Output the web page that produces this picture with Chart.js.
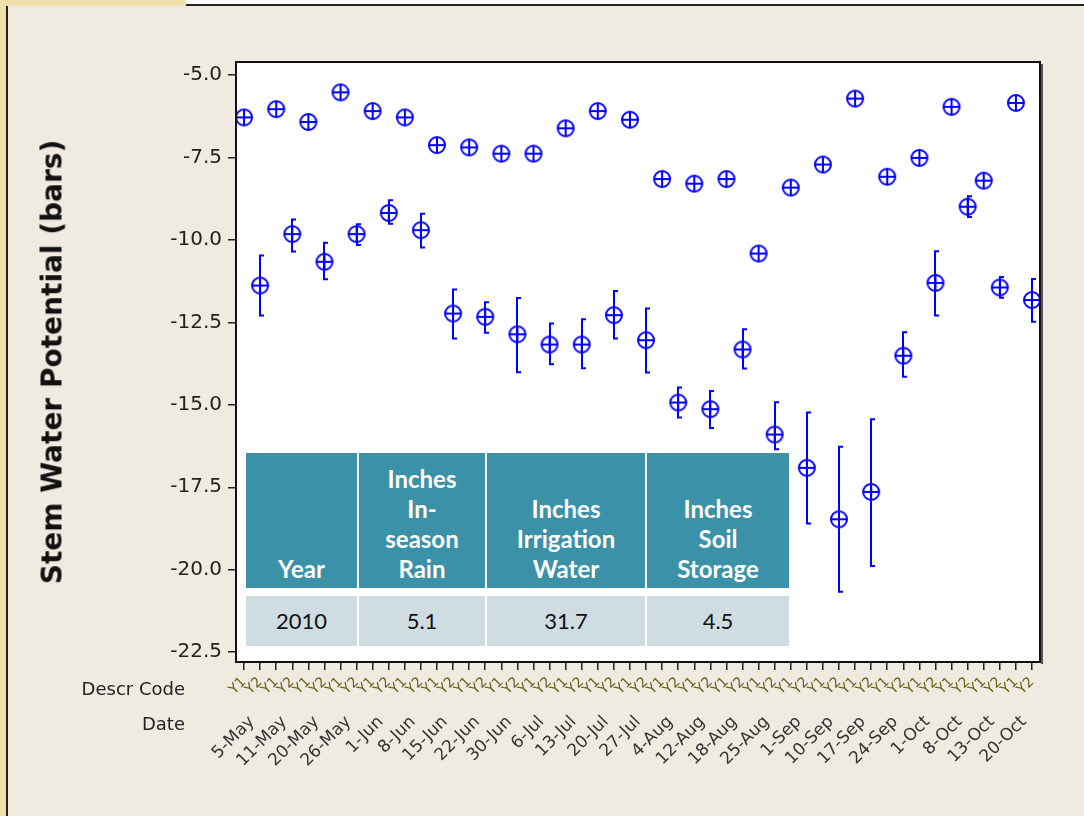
<!DOCTYPE html>
<html>
<head>
<meta charset="utf-8">
<script src="https://cdn.jsdelivr.net/npm/chart.js@4"></script>
<style>
  body { margin: 0; width: 1084px; height: 816px; overflow: hidden; background: #ffffff; position: relative; font-family: "DejaVu Sans", sans-serif; }
  #stripTop { position: absolute; left: 0; top: 0; width: 186px; height: 6px; background: #f2dfae; }
  #stripLeft { position: absolute; left: 0; top: 0; width: 6px; height: 816px; background: #f2dfae; }
  #frame { position: absolute; left: 6px; top: 4px; width: 1078px; height: 812px; background: #efebe1; border-left: 2px solid #222; border-top: 2px solid #222; box-sizing: border-box; }
  #wrap { position: absolute; left: 0; top: 0; width: 1084px; height: 816px; }
  .lbl { position: absolute; color: #222; font-size: 18px; text-align: right; }
  #ytitle { position: absolute; left: 52px; top: 362px; transform: translate(-50%, -50%) rotate(-90deg); white-space: nowrap; font-weight: bold; font-size: 28px; color: #111; }
  #tbl { position: absolute; left: 246px; top: 453px; font-family: Lato, "Open Sans", sans-serif; }
  .cell { position: absolute; box-sizing: border-box; text-align: center; }
  .head { background: #3b91a7; color: #fff; font-weight: bold; font-size: 24px; line-height: 30px; display: flex; align-items: flex-end; justify-content: center; padding-bottom: 4px; }
  .val { background: #cfdce2; color: #111; font-size: 22px; line-height: 50px; }
</style>
</head>
<body>
<div id="frame"></div>
<div id="stripTop"></div>
<div id="stripLeft"></div>
<div id="wrap"><canvas id="chart" width="1084" height="816"></canvas></div>
<div id="ytitle">Stem Water Potential (bars)</div>
<div class="lbl" style="left:40px; top:678px; width:145px;">Descr Code</div>
<div class="lbl" style="left:40px; top:713px; width:145px;">Date</div>
<div id="tbl"></div>
<script>
// sampling dates and the two description codes
const dates = ['5-May','11-May','20-May','26-May','1-Jun','8-Jun','15-Jun','22-Jun','30-Jun','6-Jul','13-Jul','20-Jul','27-Jul',
  '4-Aug','12-Aug','18-Aug','25-Aug','1-Sep','10-Sep','17-Sep','24-Sep','1-Oct','8-Oct','13-Oct','20-Oct'];
const codes = ['Y1', 'Y2'];

// Y1 means (upper group)
const y1Mean = [-6.28,-6.03,-6.42,-5.52,-6.09,-6.28,-7.12,-7.19,-7.38,-7.38,-6.61,-6.09,-6.35,
  -8.15,-8.29,-8.15,-10.41,-8.41,-7.71,-5.71,-8.08,-7.51,-5.96,-8.20,-5.84];
// Y2 means and interval ends (lower group)
const y2Mean = [-11.38,-9.82,-10.66,-9.82,-9.18,-9.70,-12.23,-12.33,-12.86,-13.17,-13.17,-12.28,-13.04,
  -14.93,-15.13,-13.32,-15.90,-16.91,-18.47,-17.64,-13.51,-11.30,-8.99,-11.44,-11.82];
const y2High = [-10.47,-9.38,-10.08,-9.52,-8.79,-9.20,-11.50,-11.89,-11.76,-12.53,-12.40,-11.55,-12.08,
  -14.47,-14.58,-12.71,-14.92,-15.23,-16.27,-15.44,-12.80,-10.34,-8.67,-11.12,-11.18];
const y2Low = [-12.29,-10.35,-11.19,-10.15,-9.51,-10.23,-12.99,-12.81,-14.01,-13.77,-13.89,-12.99,-14.02,
  -15.38,-15.70,-13.90,-16.35,-18.60,-20.67,-19.89,-14.15,-12.29,-9.30,-11.75,-12.48];

const yTicks = [-5.0,-7.5,-10.0,-12.5,-15.0,-17.5,-20.0,-22.5];

// inset table
const tableHeads = ['Year', 'Inches<br>In-<br>season<br>Rain', 'Inches<br>Irrigation<br>Water', 'Inches<br>Soil<br>Storage'];
const tableValues = ['2010', '5.1', '31.7', '4.5'];

// build table
const colW = [111, 126, 158, 142];
let tx = 0, html = '';
for (let i = 0; i < tableHeads.length; i++) {
  html += `<div class="cell head" style="left:${tx}px;top:0;width:${colW[i]}px;height:135px;"><div>${tableHeads[i]}</div></div>`;
  html += `<div class="cell val" style="left:${tx}px;top:143px;width:${colW[i]}px;height:50px;">${tableValues[i]}</div>`;
  tx += colW[i] + 2;
}
document.getElementById('tbl').innerHTML = html;

// x labels: each date has Y1 and Y2
const xLabels = [];
const d1 = [], d2 = [];
dates.forEach((d, i) => {
  xLabels.push(codes[0]); xLabels.push(codes[1]);
  d1.push(y1Mean[i]); d1.push(null);
  d2.push(null); d2.push(y2Mean[i]);
});

// circle with cross marker
const mk = document.createElement('canvas');
mk.width = 20; mk.height = 20;
const mc = mk.getContext('2d');
mc.strokeStyle = '#0000ff';
mc.lineWidth = 2;
mc.beginPath(); mc.arc(10, 10, 8, 0, Math.PI * 2); mc.stroke();
mc.beginPath(); mc.moveTo(2, 10); mc.lineTo(18, 10); mc.moveTo(10, 2); mc.lineTo(10, 18); mc.stroke();

const plotBox = {
  id: 'plotBox',
  beforeDraw(c) {
    const a = c.chartArea, ctx = c.ctx;
    ctx.save();
    ctx.fillStyle = '#ffffff';
    ctx.fillRect(a.left, a.top, a.right - a.left, a.bottom - a.top);
    ctx.restore();
  },
  beforeDatasetsDraw(c) {
    const ctx = c.ctx, xs = c.scales.x, ys = c.scales.y;
    ctx.save();
    ctx.strokeStyle = '#0000ff';
    ctx.lineWidth = 2;
    dates.forEach((d, i) => {
      const x = Math.round(xs.getPixelForValue(i * 2 + 1));
      const yt = ys.getPixelForValue(y2High[i]);
      const yb = ys.getPixelForValue(y2Low[i]);
      ctx.beginPath();
      ctx.moveTo(x, yt); ctx.lineTo(x, yb);
      ctx.moveTo(x - 1, yt); ctx.lineTo(x + 4, yt);
      ctx.moveTo(x - 1, yb); ctx.lineTo(x + 4, yb);
      ctx.stroke();
    });
    ctx.restore();
  },
  afterDraw(c) {
    const a = c.chartArea, ctx = c.ctx;
    ctx.save();
    ctx.strokeStyle = '#111';
    ctx.lineWidth = 2;
    ctx.strokeRect(a.left, a.top, a.right - a.left, a.bottom - a.top);
    ctx.strokeStyle = '#555';
    ctx.beginPath();
    ctx.moveTo(a.right + 2, a.top + 2); ctx.lineTo(a.right + 2, a.bottom + 2);
    ctx.stroke();
    ctx.restore();
  }
};

new Chart(document.getElementById('chart'), {
  type: 'line',
  data: {
    labels: xLabels,
    datasets: [
      { label: 'Y1', data: d1, showLine: false, pointStyle: mk, pointRadius: 9, borderColor: '#0000ff' },
      { label: 'Y2', data: d2, showLine: false, pointStyle: mk, pointRadius: 9, borderColor: '#0000ff' }
    ]
  },
  options: {
    responsive: false,
    animation: false,
    layout: { padding: { left: 0, right: 44, top: 62, bottom: 0 } },
    plugins: { legend: { display: false }, tooltip: { enabled: false } },
    scales: {
      x: {
        type: 'category',
        offset: true,
        weight: 0,
        grid: { drawOnChartArea: false, offset: false, tickLength: 8, color: '#222', lineWidth: 1.5 },
        border: { display: false },
        ticks: { autoSkip: false, maxRotation: 45, minRotation: 45, padding: 4, color: '#6a5a1a', font: { family: 'DejaVu Sans', size: 14 } },
        afterFit(s) { s.height = 42; }
      },
      x2: {
        type: 'category',
        labels: dates,
        offset: true,
        position: 'bottom',
        weight: 1,
        grid: { display: false },
        border: { display: false },
        ticks: { autoSkip: false, maxRotation: 45, minRotation: 45, padding: 0, color: '#333', font: { family: 'DejaVu Sans', size: 17 } },
        afterFit(s) { s.height = 112; }
      },
      y: {
        type: 'linear',
        min: -22.8,
        max: -4.6,
        afterBuildTicks(s) { s.ticks = yTicks.map(v => ({ value: v })); },
        grid: { drawOnChartArea: false, tickLength: 8, color: '#222', lineWidth: 1.5 },
        border: { display: false },
        ticks: { padding: 6, color: '#222', font: { family: 'DejaVu Sans', size: 20 }, callback: v => v.toFixed(1) },
        afterFit(s) { s.width = 236; }
      }
    }
  },
  plugins: [plotBox]
});
</script>
</body>
</html>
